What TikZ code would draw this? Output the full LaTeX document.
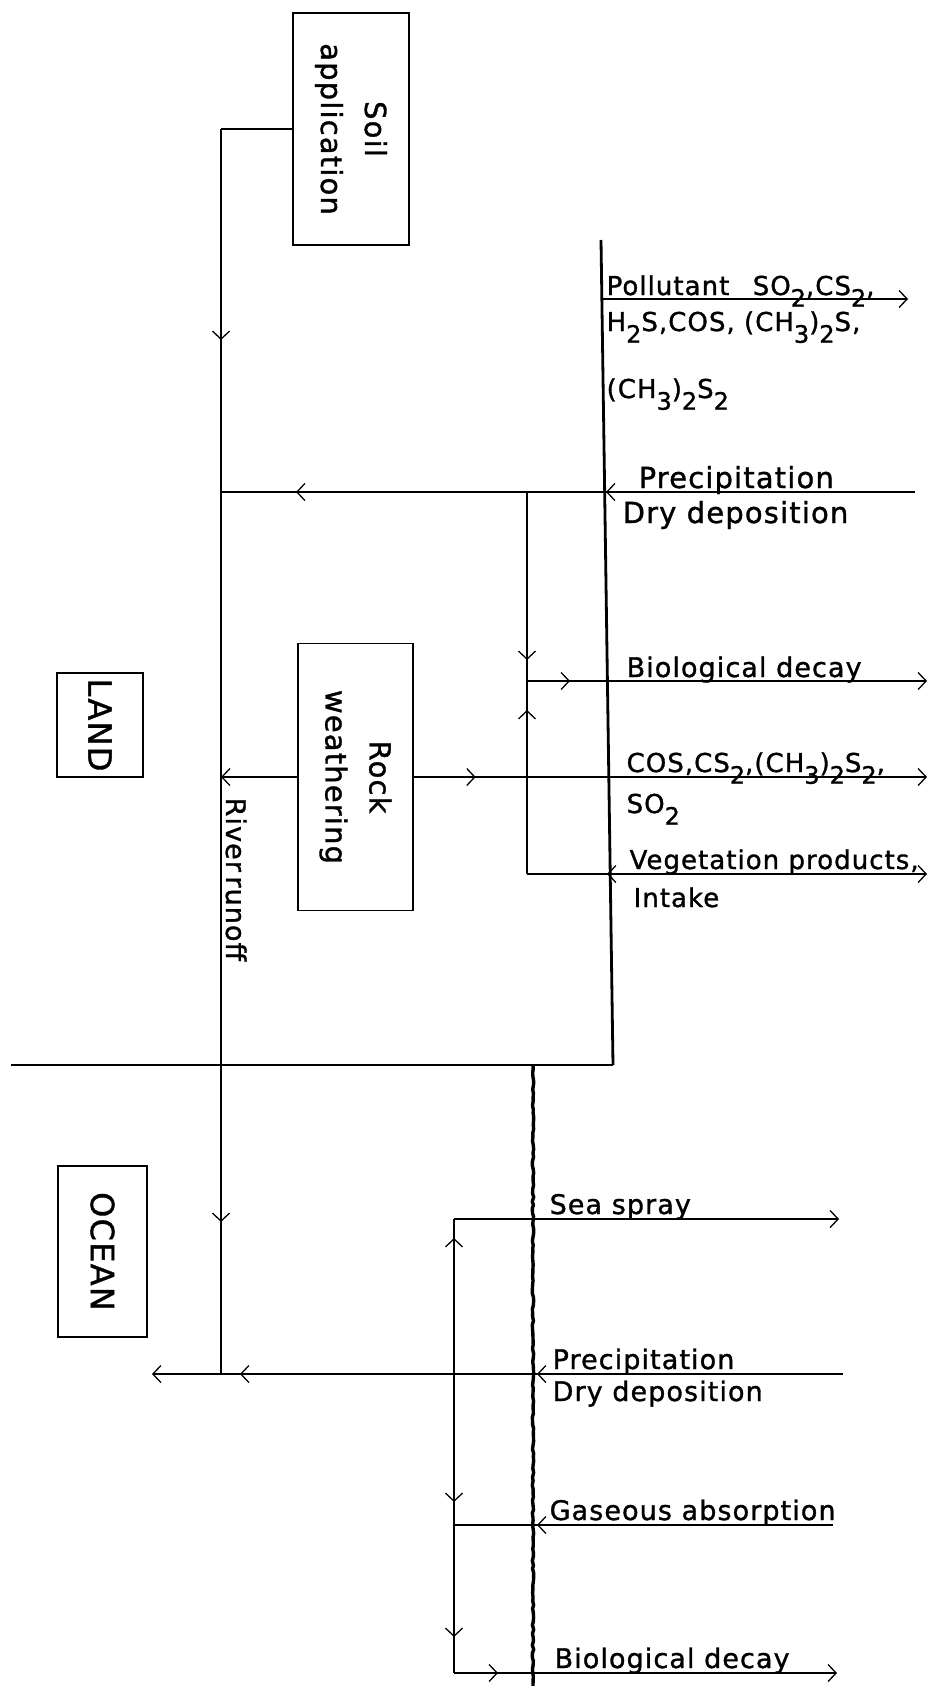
\documentclass[tikz,border=0pt]{standalone}
\usepackage{fontspec}
\usepackage{graphicx}
\newfontfamily\hand{DejaVu Sans}[LetterSpace=4,FakeBold=1.2]
\usetikzlibrary{arrows.meta,decorations.markings,decorations.pathmorphing}
\newcommand{\sbs}[1]{\raisebox{-0.45em}{\scalebox{0.92}{#1}}}
\begin{document}
\begin{tikzpicture}[x=1pt,y=-1pt,line width=1.3pt,
  >={Straight Barb[length=8pt,width=17pt]},
  fw/.style={postaction={decorate,decoration={markings,mark=at position #1 with {\arrow{>}}}}},
  bw/.style={postaction={decorate,decoration={markings,mark=at position #1 with {\arrowreversed{>}}}}},
  box/.style={draw, rotate=-90, inner sep=0pt, align=center, font=\hand\fontsize{29}{44}\selectfont},
  lbl/.style={anchor=base west, inner sep=0pt, font=\hand\fontsize{27}{30}\selectfont},
  biglbl/.style={lbl, font=\hand\fontsize{29}{32}\selectfont},
  midlbl/.style={lbl, font=\hand\fontsize{26}{30}\selectfont},
  smalllbl/.style={lbl, font=\hand\fontsize{26}{30}\selectfont},
  side/.style={draw, rotate=-90, inner sep=0pt, line width=2.2pt, font=\hand\fontsize{32}{36}\selectfont},
  landline/.style={line width=2.8pt},
  seaedge/.style={line width=3.4pt, decorate, decoration={random steps, segment length=4pt, amplitude=0.7pt}},
]
\useasboundingbox (0,0) rectangle (937,1686);
\pgfmathsetseed{7}

% boxes
\node[box, minimum width=232pt, minimum height=116pt] (soil) at (351,129) {Soil\\application};
\node[box, minimum width=267pt, minimum height=115pt] (rock) at (355.5,777) {Rock\\weathering};
\node[side, minimum width=104pt, minimum height=86pt] (land) at (100,725) {LAND};
\node[side, minimum width=171pt, minimum height=89pt] (ocean) at (102.5,1251.5) {OCEAN};

% coordinates
\coordinate (c1) at (221,129);
\coordinate (c2) at (221,492);
\coordinate (c3) at (221,777);
\coordinate (c4) at (221,1374);
\coordinate (oe) at (152,1374);
\coordinate (L1) at (601,240);
\coordinate (L2) at (613,1065);
\coordinate (B0) at (11,1065);
\coordinate (p1) at (602,299);
\coordinate (p2) at (908,299);
\coordinate (R1) at (915,492);
\coordinate (i1) at (527,492);
\coordinate (i3) at (527,681);
\coordinate (i5) at (527,874);
\coordinate (b2) at (927,681);
\coordinate (r2) at (927,777);
\coordinate (v3) at (927,874);
\coordinate (O1) at (533,1065);
\coordinate (O2) at (533,1686);
\coordinate (s1) at (454,1219);
\coordinate (s2) at (839,1219);
\coordinate (gj) at (454,1525);
\coordinate (gx) at (833,1525);
\coordinate (bj) at (454,1673);
\coordinate (be) at (837,1673);
\coordinate (px) at (843,1374);

% land
\draw (soil.south) -- (c1);
\draw[fw=211pt, fw=1093pt] (c1) -- (c4);
\draw[landline] (L1) -- (L2);
\draw (B0) -- (L2);
\draw[->] (p1) -- (p2);
\draw[fw=309pt, fw=619pt] (R1) -- (c2);
\draw[fw=168pt] (i1) -- (i3);
\draw[fw=164pt] (i5) -- (i3);
\draw[->, fw=43pt] (i3) -- (b2);
\draw[->] (rock.south) -- (c3);
\draw[->, fw=62pt] (rock.north) -- (r2);
\draw[->, bw=80pt] (i5) -- (v3);

% ocean
\draw[seaedge] (O1) -- (O2);
\draw[->] (s1) -- (s2);
\draw[bw=19pt, fw=283pt] (s1) -- (gj);
\draw[fw=112pt] (gj) -- (bj);
\draw[->, fw=44pt] (bj) -- (be);
\draw[fw=296pt] (gx) -- (gj);
\draw[fw=306pt, fw=603pt] (px) -- (c4);
\draw[->] (c4) -- (oe);

% labels land
\node[smalllbl] (t1) at (606,295) {Pollutant\hspace{0.9em}SO\sbs{2},CS\sbs{2},};
\node[smalllbl] (t2) at (606,331) {H\sbs{2}S,COS, (CH\sbs{3})\sbs{2}S,};
\node[smalllbl] (t3) at (606,398) {(CH\sbs{3})\sbs{2}S\sbs{2}};
\node[biglbl] (t4) at (638,488) {Precipitation};
\node[biglbl] (t5) at (622,523) {Dry deposition};
\node[lbl] (t6) at (626,677) {Biological decay};
\node[midlbl] (t7) at (626,772) {COS,CS\sbs{2},(CH\sbs{3})\sbs{2}S\sbs{2},};
\node[midlbl] (t8) at (626,813) {SO\sbs{2}};
\node[midlbl] (t9) at (629,869) {Vegetation products,};
\node[midlbl] (t10) at (633,907) {Intake};
\node[lbl, rotate=-90] (t11) at (226,797) {River\,runoff};

% labels ocean
\node[lbl] (t12) at (549,1214) {Sea spray};
\node[lbl] (t13) at (552,1369) {Precipitation};
\node[lbl] (t14) at (552,1401) {Dry deposition};
\node[lbl] (t15) at (549,1520) {Gaseous absorption};
\node[lbl] (t16) at (554,1668) {Biological decay};
\end{tikzpicture}
\end{document}
